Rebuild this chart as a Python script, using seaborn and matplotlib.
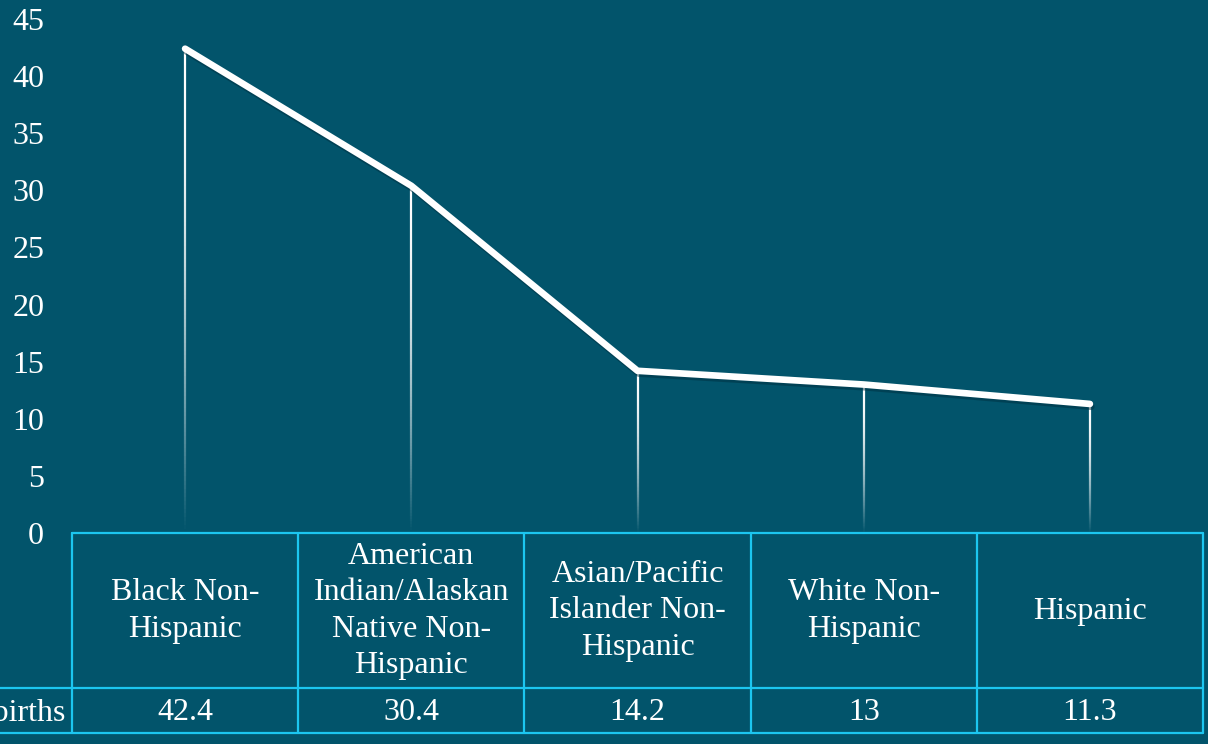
import numpy as np
import pandas as pd
import seaborn as sns
import matplotlib.pyplot as plt
import matplotlib.patheffects as pe
from matplotlib.collections import LineCollection

groups = ['Black Non-\nHispanic', 'American\nIndian/Alaskan\nNative Non-\nHispanic',
          'Asian/Pacific\nIslander Non-\nHispanic', 'White Non-\nHispanic', 'Hispanic']
rates = [42.4, 30.4, 14.2, 13, 11.3]
rate_labels = ['42.4', '30.4', '14.2', '13', '11.3']
row_label = 'Deaths per 100,000 live births'
yticks = [0, 5, 10, 15, 20, 25, 30, 35, 40, 45]

bg = '#02546b'
border = '#1cc6f0'

sns.set_style('white')
plt.rcParams['font.family'] = ['Liberation Serif', 'DejaVu Serif']

df = pd.DataFrame({'pos': np.arange(len(groups)), 'rate': rates})

W, H = 1208, 744
fig = plt.figure(figsize=(W / 100, H / 100), dpi=100, facecolor=bg)

# main plot area
ax = fig.add_axes([72 / W, 1 - 533 / H, (1203 - 72) / W, (533 - 19) / H])
ax.set_facecolor(bg)

# faded drop lines from each point down to zero
n = 120
for x, y in zip(df['pos'], df['rate']):
    ys = np.linspace(y, 0, n + 1)
    segs = [[(x, ys[i]), (x, ys[i + 1])] for i in range(n)]
    t = np.linspace(0, 1, n)
    alpha = np.clip(1 - t ** 1.8, 0, 1)
    cols = [(1, 1, 1, a) for a in alpha]
    ax.add_collection(LineCollection(segs, colors=cols, linewidths=1.6, zorder=2))

sns.lineplot(data=df, x='pos', y='rate', color='white', linewidth=4.8, ax=ax, zorder=3,
             solid_capstyle='round', solid_joinstyle='round',
             path_effects=[pe.SimpleLineShadow(offset=(1, -2), shadow_color='#003040', alpha=0.5),
                           pe.Normal()])

ax.set_xlim(-0.5, len(groups) - 0.5)
ax.set_ylim(0, 45)
ax.set_yticks(yticks)
ax.set_yticklabels([str(v) for v in yticks], fontsize=23, color='white')
ax.tick_params(axis='y', length=0, pad=20)
ax.set_xticks([])
ax.set_xlabel('')
ax.set_ylabel('')
for s in ax.spines.values():
    s.set_visible(False)

# data table below the plot
tax = fig.add_axes([72 / W, 1 - 733 / H, (1203 - 72) / W, 200 / H])
tax.set_facecolor(bg)
tax.set_xlim(-0.5, len(groups) - 0.5)
tax.set_ylim(0, 200)
tax.axis('off')
lw = 1.6
left_edge = -0.5 - 80 / 226.2
tax.plot([-0.5, len(groups) - 0.5], [200, 200], color=border, lw=lw, clip_on=False)
tax.plot([left_edge, len(groups) - 0.5], [45, 45], color=border, lw=lw, clip_on=False)
tax.plot([left_edge, len(groups) - 0.5], [0, 0], color=border, lw=lw, clip_on=False)
for i in range(len(groups) + 1):
    tax.plot([i - 0.5, i - 0.5], [0, 200], color=border, lw=lw, clip_on=False)

for i, (g, v) in enumerate(zip(groups, rate_labels)):
    tax.text(i, 122, g, ha='center', va='center', fontsize=23, color='white', linespacing=1.32)
    tax.text(i, 20, v, ha='center', va='center', fontsize=23, color='white')
tax.text(-0.5 - 7 / 226.2, 20, row_label, ha='right', va='center', fontsize=23,
         color='white', clip_on=False)

fig.savefig('out.png', dpi=100, facecolor=bg)
